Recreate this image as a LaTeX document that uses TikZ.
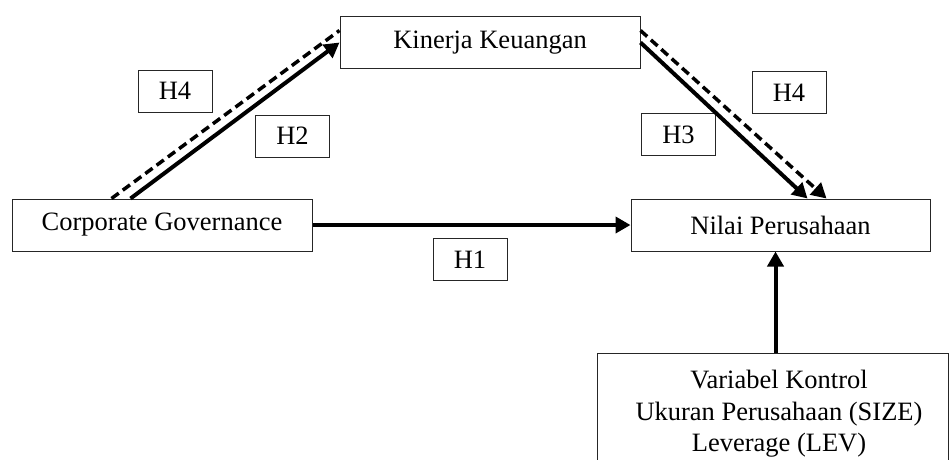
\documentclass[tikz,border=0pt]{standalone}
\usepackage{fontspec}
\setmainfont{Liberation Serif}
\usetikzlibrary{arrows.meta}
\begin{document}
\begin{tikzpicture}[
            x=1pt, y=-1pt,
            every node/.style={font=\fontsize{26.5}{34}\selectfont},
            varbox/.style={draw=black!85, line width=1pt, minimum width=300pt, minimum height=52pt, inner sep=0pt},
            hbox/.style={draw=black!85, line width=1pt, minimum width=74pt, minimum height=42pt, inner sep=0pt},
            link/.style={line width=4pt, -{Triangle[length=15pt,width=16pt]}},
            dlink/.style={line width=3.5pt, dash pattern=on 9pt off 5pt}
        ]
        \useasboundingbox[fill=white] (0,0) rectangle (949,459);
        \clip (0,0) rectangle (949,459);
        % variables
        \node[varbox] (kk) at (490,42.5) {Kinerja Keuangan};
        \node[varbox] (cg) at (162,225) {Corporate Governance};
        \node[varbox, minimum width=299pt] (np) at (780.5,225) {Nilai Perusahaan};
        \node[draw=black!85, line width=1pt, anchor=north west, minimum width=351pt, minimum height=130pt] (ctrl) at (597,353) {};
        \node[anchor=north, inner sep=0pt, align=center, font=\fontsize{26.5}{31.5}\selectfont] (ctrltext) at (779,370) {Variabel Kontrol\\Ukuran Perusahaan (SIZE)\\Leverage (LEV)};
        % hypotheses
        \node[hbox] (h4a) at (175,91) {H4};
        \node[hbox] (h2) at (292.5,136) {H2};
        \node[hbox] (h3) at (678.5,134.5) {H3};
        \node[hbox] (h4b) at (789,92.5) {H4};
        \node[hbox] (h1) at (470,259.5) {H1};
        % paths
        \draw[link] (cg.east) -- (np.west);
        \draw[link] ([xshift=119pt]cg.north west) -- (kk.west);
        \draw[dlink] ([xshift=100pt]cg.north west) -- ([yshift=12pt]kk.west);
        \draw[link] (kk.east) -- ([xshift=177pt]np.north west);
        \draw[dlink, -{Triangle[length=15pt,width=16pt]}] ([yshift=12pt]kk.east) -- ([xshift=196pt]np.north west);
        \draw[link] ([xshift=2.5pt]ctrl.north) -- ([xshift=2.5pt]ctrl.north |- np.south);
    \end{tikzpicture}
\end{document}
